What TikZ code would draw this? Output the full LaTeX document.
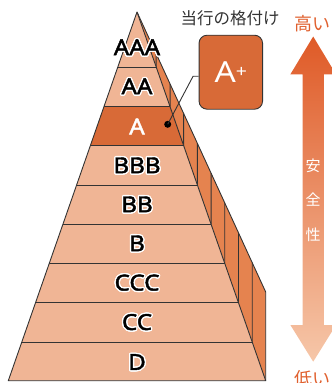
\documentclass[tikz,border=0pt]{standalone}
\usepackage{fontspec}
\setmainfont{Noto Sans}
\newfontfamily\widesans{Noto Sans}[FakeStretch=1.1, FakeBold=2]
\newfontfamily\boxsans{Noto Sans}[FakeStretch=1.15]
\newfontfamily\jpfont{Noto Sans CJK JP}
\usepackage[copies]{contour}
\contourlength{1.3pt}
\usetikzlibrary{calc}

\definecolor{tierfill}{HTML}{F0B595}
\definecolor{bandfill}{HTML}{D86A37}
\definecolor{sidefill}{HTML}{E5834F}
\definecolor{edgegray}{HTML}{333333}
\definecolor{hiorange}{HTML}{E0602E}
\definecolor{arrowtop}{HTML}{DF5A27}
\definecolor{arrowbot}{HTML}{F6C7A9}

\tikzset{
  edge/.style={draw=edgegray, line width=0.9pt, line join=round},
  tierlabel/.style={inner sep=0pt, font=\widesans\fontsize{22}{22}\selectfont},
  caption/.style={inner sep=0pt, font=\jpfont\fontsize{16.5}{16.5}\selectfont, text=edgegray},
  scalelabel/.style={inner sep=0pt, font=\jpfont\fontsize{18}{18}\selectfont, text=hiorange},
}

\begin{document}
\begin{tikzpicture}[x=1pt, y=-1pt]
  \useasboundingbox (0,0) rectangle (332,383);

  % pyramid corners
  \coordinate (apex) at (137,12);
  \coordinate (BL) at (8.3,380.7);
  \coordinate (BR) at (265.7,380.7);
  \coordinate (O) at (265.7,292);

  % tier boundaries on the front face
  \foreach \y [count=\i] in {67,106.7,145.7,185,224.3,263.3,302.7,342.3} {
    \coordinate (L\i) at ($(apex)!{(\y-12)/368.7}!(BL)$);
    \coordinate (R\i) at ($(apex)!{(\y-12)/368.7}!(BR)$);
    \coordinate (U\i) at ($(R\i)+(0,-30)$);
  }

  % side face with its steps
  \fill[sidefill] (apex) -- (O) -- (BR) -- cycle;
  \foreach \i in {1,...,8}
    \draw[edge] (R\i) -- (intersection of apex--O and R\i--U\i);
  \draw[edge] (apex) -- (O) -- (BR);

  % front face
  \fill[tierfill] (apex) -- (BL) -- (BR) -- cycle;
  \fill[bandfill] (L2) -- (R2) -- (R3) -- (L3) -- cycle;
  \foreach \i in {1,...,8}
    \draw[edge] (L\i) -- (R\i);
  \draw[edge] (apex) -- (BL) -- (BR) -- cycle;

  % tier labels
  \foreach \t/\y in {AAA/48,AA/87,BBB/166,BB/205,B/244,CCC/283.3,CC/322.7,D/362.7}
    \node[tierlabel, name=lbl\t] at (137,\y) {\contour{white}{\t}};
  \node[tierlabel, text=white, name=lblA] at (137,126.5) {A};

  % current rating callout
  \node[caption] (cap) at (230,18.5) {当行の格付け};
  \node[draw=edgegray, line width=0.9pt, fill=bandfill, rounded corners=8pt,
        minimum width=63.5pt, minimum height=74pt, inner sep=0pt,
        text=white, font=\boxsans\fontsize{29}{29}\selectfont] (box) at (230.8,72.2)
        {A\raisebox{5pt}{\fontsize{17}{17}\selectfont +}};
  \node[circle, fill=black, inner sep=0pt, minimum size=7pt] (dot) at (167.7,124.3) {};
  \coordinate (kink) at ($(box.west)+(-5.5,4)$);
  \draw[edge, line join=miter] ($(box.west)+(0,4)$) -- (kink) -- (dot.center);

  % safety scale arrow
  \shade[top color=arrowtop, bottom color=arrowbot]
    (313.2,36.5) -- (336,74.3) -- (323.8,74.3) -- (323.8,325) -- (336,325)
    -- (313.2,361.7) -- (290.4,325) -- (302.6,325) -- (302.6,74.3)
    -- (290.4,74.3) -- cycle;
  \node[inner sep=0pt, align=center, text=white,
        font=\jpfont\fontsize{15}{34.5}\selectfont] (safety) at (313.2,200)
        {安\\全\\性};
  \node[scalelabel] (high) at (312,24) {高い};
  \node[scalelabel] (low) at (312,378.5) {低い};
\end{tikzpicture}
\end{document}
